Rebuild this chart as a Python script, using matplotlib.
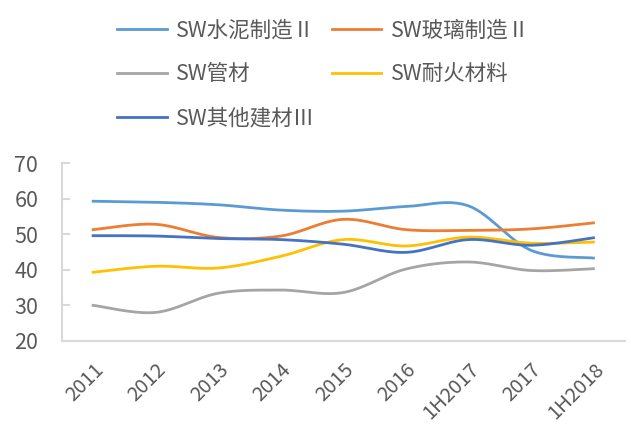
import numpy as np
import matplotlib
matplotlib.use("Agg")
from matplotlib import pyplot as plt

plt.rcParams['font.family'] = ['Noto Sans CJK SC', 'DejaVu Sans']

# datos
categorias = ["2011", "2012", "2013", "2014", "2015", "2016", "1H2017", "2017", "1H2018"]
cemento = [59.3, 59.0, 58.3, 56.8, 56.5, 57.8, 58.0, 45.5, 43.3]
vidrio = [51.3, 52.8, 49.1, 49.5, 54.2, 51.3, 51.1, 51.5, 53.2]
tubos = [30.0, 28.0, 33.4, 34.3, 33.6, 40.2, 42.2, 39.8, 40.3]
refractario = [39.3, 41.0, 40.5, 43.8, 48.5, 46.7, 49.2, 47.5, 47.8]
otros = [49.6, 49.5, 48.8, 48.5, 47.2, 44.9, 48.5, 46.9, 49.0]
nombres = ["SW水泥制造Ⅱ", "SW玻璃制造Ⅱ", "SW管材", "SW耐火材料", "SW其他建材Ⅲ"]
colores = ["#5B9BD5", "#ED7D31", "#A5A5A5", "#FFC000", "#4472C4"]


def suavizar(y, n=30):
    # curva tipo Excel (Bezier Catmull-Rom)
    y = np.asarray(y, dtype=float)
    x = np.arange(len(y), dtype=float)
    xs, ys = [], []
    for i in range(len(y) - 1):
        p0 = (x[max(i - 1, 0)], y[max(i - 1, 0)])
        p1 = (x[i], y[i])
        p2 = (x[i + 1], y[i + 1])
        p3 = (x[min(i + 2, len(y) - 1)], y[min(i + 2, len(y) - 1)])
        c1 = (p1[0] + (p2[0] - p0[0]) / 6, p1[1] + (p2[1] - p0[1]) / 6)
        c2 = (p2[0] - (p3[0] - p1[0]) / 6, p2[1] - (p3[1] - p1[1]) / 6)
        t = np.linspace(0, 1, n)
        bx = (1-t)**3*p1[0] + 3*(1-t)**2*t*c1[0] + 3*(1-t)*t**2*c2[0] + t**3*p2[0]
        by = (1-t)**3*p1[1] + 3*(1-t)**2*t*c1[1] + 3*(1-t)*t**2*c2[1] + t**3*p2[1]
        xs.extend(bx)
        ys.extend(by)
    return np.array(xs), np.array(ys)


fig = plt.figure(figsize=(6.31, 4.25), dpi=100)
ax = fig.add_axes([0.098, 0.198, 0.892, 0.418])

lineas = []
for serie, nombre, color in zip([cemento, vidrio, tubos, refractario, otros], nombres, colores):
    xs, ys = suavizar(serie)
    l, = ax.plot(xs, ys, color=color, lw=2, label=nombre)
    lineas.append(l)

ax.set_xlim(-0.5, len(categorias) - 0.5)
ax.set_ylim(20, 70)
ax.set_yticks([20, 30, 40, 50, 60, 70])
ax.set_xticks(range(len(categorias)))
ax.set_xticklabels(categorias, rotation=45, ha='right', rotation_mode='anchor')
ax.tick_params(axis='x', length=0, labelsize=14.5, colors='#595959', pad=13)
ax.tick_params(axis='y', direction='in', length=6, width=1.5, color='#D9D9D9',
               labelsize=15.5, labelcolor='#595959', pad=17)
for s in ['top', 'right']:
    ax.spines[s].set_visible(False)
for s in ['left', 'bottom']:
    ax.spines[s].set_color('#D9D9D9')
    ax.spines[s].set_linewidth(1.5)

orden = [0, 2, 4, 1, 3]
fig.legend([lineas[i] for i in orden], [nombres[i] for i in orden],
           loc='upper left', bbox_to_anchor=(0.155, 1.0), ncol=2, frameon=False,
           fontsize=15.5, labelcolor='#595959', handlelength=2.3, handletextpad=0.45,
           columnspacing=0.75, labelspacing=1.02)

fig.savefig("out.png", dpi=100)
